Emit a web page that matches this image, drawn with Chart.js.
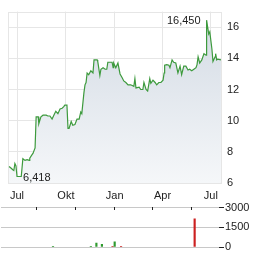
<!DOCTYPE html>
<html>
<head>
<meta charset="utf-8">
<script src="https://cdn.jsdelivr.net/npm/chart.js@4/dist/chart.umd.min.js"></script>
<style>
  html, body { margin: 0; padding: 0; background: #fff; }
  #wrap { position: relative; width: 264px; height: 255px; }
  #price { position: absolute; left: 0; top: 0; }
  #volume { position: absolute; left: 0; top: 200px; }
</style>
</head>
<body>
<div id="wrap">
  <canvas id="price" width="264" height="202"></canvas>
  <canvas id="volume" width="264" height="55"></canvas>
</div>
<script>
// days counted from 1 July
const monthDays = [0, 92, 184, 274, 365];
const monthLabels = ["Jul", "Okt", "Jan", "Apr", "Jul"];
const priceTicks = [6, 8, 10, 12, 14, 16];
const volumeTicks = [0, 1500, 3000];

const priceDays = [-15, -11, -8, -6, -4, -2, 0, 4, 8, 9, 11, 15, 19, 23, 24, 28, 30, 34, 36, 40,
  41, 45, 49, 55, 58, 62, 66, 70, 73, 77, 81, 85, 88, 90, 94, 96, 98, 102, 105, 109,
  113, 117, 120, 122, 126, 128, 130, 132, 135, 139, 143, 145, 151, 152, 156, 158, 162, 166, 169, 171,
  175, 179, 181, 182, 186, 190, 194, 198, 201, 205, 209, 214, 220, 222, 224, 230, 233, 237, 239, 243,
  246, 250, 252, 256, 260, 263, 267, 271, 275, 277, 278, 282, 286, 288, 292, 295, 299, 303, 307, 310,
  314, 318, 322, 325, 329, 333, 337, 339, 341, 344, 348, 352, 356, 357, 361, 363, 367, 369, 373, 374,
  376, 378, 384];
const prices = [7.06, 6.95, 6.85, 6.8, 7.25, 7.1, 6.418, 6.418, 6.418, 6.418, 7.56, 7.45, 7.5, 7.45, 7.6, 7.8, 7.9, 8.25, 10.25, 10.25,
  9.8, 10.25, 10.35, 10.35, 10.3, 10.3, 10.1, 10.4, 10.6, 10.45, 10.75, 10.8, 10.9, 11.0, 11.0, 9.5, 9.5, 9.95, 9.7, 9.75,
  10.1, 10.1, 10.56, 10.45, 11.8, 12.3, 12.45, 13.06, 12.95, 13.2, 13.06, 13.9, 13.9, 13.8, 12.9, 13.3, 13.4, 13.3, 13.3, 13.75,
  13.75, 13.75, 13.4, 13.7, 13.4, 13.7, 13.0, 12.75, 12.55, 12.45, 12.3, 12.3, 12.2, 12.7, 12.1, 12.15, 12.0, 12.0, 12.45, 12.0,
  11.9, 12.7, 12.4, 12.6, 12.45, 12.3, 12.45, 12.45, 12.6, 13.06, 13.56, 13.6, 13.56, 13.4, 13.9, 13.75, 13.7, 13.06, 13.5, 12.95,
  13.5, 13.5, 13.25, 13.3, 13.2, 13.3, 13.4, 13.6, 14.1, 13.7, 13.9, 14.3, 14.2, 16.45, 15.56, 15.7, 14.6, 13.8, 14.1, 14.3,
  13.9, 13.95, 13.9];

const volumeDays = [41, 130, 143, 156, 181, 186, 201, 374];
const volumes = [60, 60, 300, 200, 60, 400, 60, 2150];
const volumeUp = [true, true, true, true, false, true, false, false];

const font = { family: "'Liberation Sans', Arial, sans-serif", size: 11 };
const gridColor = "#e6e6e6";

function monthTicks(scale) {
  scale.ticks = monthDays.map(v => ({ value: v }));
}

// frame round the plot area
const framePlugin = {
  id: "frame",
  beforeDatasetsDraw(chart) {
    const a = chart.chartArea, ctx = chart.ctx;
    ctx.save();
    ctx.strokeStyle = gridColor;
    ctx.lineWidth = 1;
    ctx.strokeRect(Math.round(a.left) + 0.5, Math.round(a.top) + 0.5,
      Math.round(a.right - a.left) - 1, Math.round(a.bottom - a.top) - 1);
    ctx.restore();
  }
};

// min / max labels
const extremesPlugin = {
  id: "extremes",
  afterDatasetsDraw(chart) {
    const pts = chart.getDatasetMeta(0).data;
    const hi = prices.indexOf(Math.max(...prices));
    const lo = prices.indexOf(Math.min(...prices));
    const ctx = chart.ctx;
    ctx.save();
    ctx.font = font.size + "px " + font.family;
    ctx.fillStyle = "#222";
    ctx.textBaseline = "middle";
    ctx.textAlign = "right";
    ctx.fillText(prices[hi].toFixed(3).replace(".", ","), pts[hi].x - 6, pts[hi].y + 1);
    ctx.textAlign = "left";
    ctx.fillText(prices[lo].toFixed(3).replace(".", ","), pts[lo].x + 6, pts[lo].y + 1);
    ctx.restore();
  }
};

const pctx = document.getElementById("price").getContext("2d");
const fillGrad = pctx.createLinearGradient(0, 7, 0, 183);
fillGrad.addColorStop(0, "#d1d9e3");
fillGrad.addColorStop(1, "#f5f7f9");

new Chart(pctx, {
  type: "line",
  data: {
    datasets: [{
      data: priceDays.map((d, i) => ({ x: d, y: prices[i] })),
      borderColor: "#3d9a3d",
      borderWidth: 1.2,
      backgroundColor: fillGrad,
      fill: "start",
      pointRadius: 0,
      tension: 0
    }]
  },
  options: {
    responsive: false,
    animation: false,
    layout: { padding: { left: 8, top: 7, right: 0, bottom: 0 } },
    plugins: { legend: { display: false }, tooltip: { enabled: false } },
    scales: {
      x: {
        type: "linear",
        min: -17,
        max: 386,
        afterBuildTicks: monthTicks,
        afterFit(s) { s.height = 19; },
        grid: { color: gridColor, drawTicks: false },
        border: { display: false },
        ticks: {
          font: font, color: "#222", padding: 6, maxRotation: 0, autoSkip: false,
          callback: v => monthLabels[monthDays.indexOf(v)]
        }
      },
      y: {
        position: "right",
        min: 6,
        max: 17,
        afterBuildTicks(s) { s.ticks = priceTicks.map(v => ({ value: v })); },
        afterFit(s) { s.width = 42; },
        grid: { color: gridColor, drawTicks: false },
        border: { display: false },
        ticks: { font: font, color: "#222", padding: 5 }
      }
    }
  },
  plugins: [framePlugin, extremesPlugin]
});

// little marks on the top line of the volume panel
const topMarksPlugin = {
  id: "topMarks",
  afterDraw(chart) {
    const x = chart.scales.x, top = Math.round(chart.chartArea.top), ctx = chart.ctx;
    ctx.save();
    ctx.strokeStyle = "#222";
    ctx.lineWidth = 1;
    monthDays.forEach(d => {
      const px = Math.round(x.getPixelForValue(d)) + 0.5;
      ctx.beginPath();
      ctx.moveTo(px, top - 1);
      ctx.lineTo(px, top + 2);
      ctx.stroke();
    });
    ctx.restore();
  }
};

new Chart(document.getElementById("volume").getContext("2d"), {
  type: "bar",
  data: {
    datasets: [{
      data: volumeDays.map((d, i) => ({ x: d, y: volumes[i] })),
      backgroundColor: volumeUp.map(u => u ? "#2f9a2f" : "#cc2020"),
      barThickness: 1.5
    }]
  },
  options: {
    responsive: false,
    animation: false,
    layout: { padding: { left: 1, top: 7, right: 0, bottom: 8 } },
    plugins: { legend: { display: false }, tooltip: { enabled: false } },
    scales: {
      x: {
        type: "linear",
        min: -30,
        max: 380,
        display: false
      },
      y: {
        position: "right",
        min: 0,
        max: 3000,
        afterBuildTicks(s) { s.ticks = volumeTicks.map(v => ({ value: v })); },
        afterFit(s) { s.width = 45; },
        grid: { color: "#c8c8c8", drawTicks: true, tickLength: 5, tickColor: "#222" },
        border: { display: false },
        ticks: { font: font, color: "#222", padding: 1, callback: v => String(v) }
      }
    }
  },
  plugins: [topMarksPlugin]
});
</script>
</body>
</html>
